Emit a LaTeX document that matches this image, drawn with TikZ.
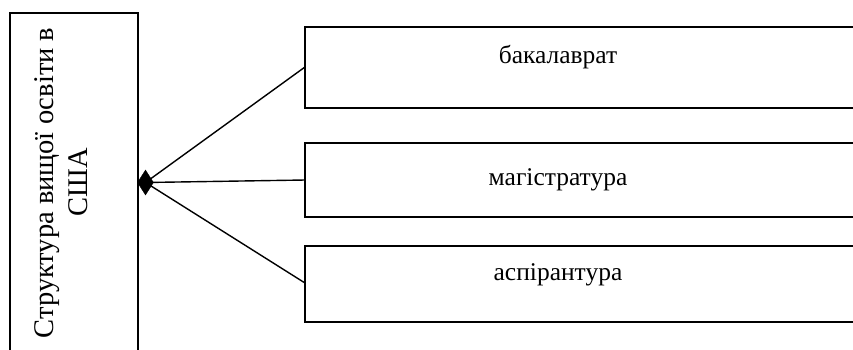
\documentclass[tikz,border=0pt]{standalone}
\usepackage{fontspec}
\setmainfont{Liberation Serif}
\usetikzlibrary{shapes.geometric}
\begin{document}
\begin{tikzpicture}[x=1pt,y=-1pt,
  box/.style={draw,line width=1.6pt,rectangle,inner sep=0pt},
  lbl/.style={font=\fontsize{25.5}{30}\selectfont,inner sep=0pt,anchor=base},
  side/.style={font=\fontsize{28.5}{34}\selectfont,inner sep=0pt,anchor=base,rotate=90},
  conn/.style={line width=1.4pt}]
\useasboundingbox (0,0) rectangle (853,349);
\node[box,minimum width=128pt,minimum height=348pt] (main) at (74,187) {};
\node[side] (m1) at (53,183) {Структура вищої освіти в};
\node[side] (m2) at (87,182) {США};
\node[box,minimum width=600pt,minimum height=81pt] (b1) at (605,67.5) {};
\node[box,minimum width=600pt,minimum height=74pt] (b2) at (605,180) {};
\node[box,minimum width=600pt,minimum height=76pt] (b3) at (605,284) {};
\node[lbl] (t1) at (558,63) {бакалаврат};
\node[lbl] (t2) at (558,185) {магістратура};
\node[lbl] (t3) at (558,280) {аспірантура};
\coordinate (p1) at (305,67);
\coordinate (p2) at (305,180);
\coordinate (p3) at (305,283);
\node[diamond,fill=black,draw=black,inner sep=0pt,minimum width=16pt,minimum height=25pt] (d) at (145.5,182.5) {};
\draw[conn] (d.center) -- (p1);
\draw[conn] (d.center) -- (p2);
\draw[conn] (d.center) -- (p3);
\end{tikzpicture}
\end{document}
